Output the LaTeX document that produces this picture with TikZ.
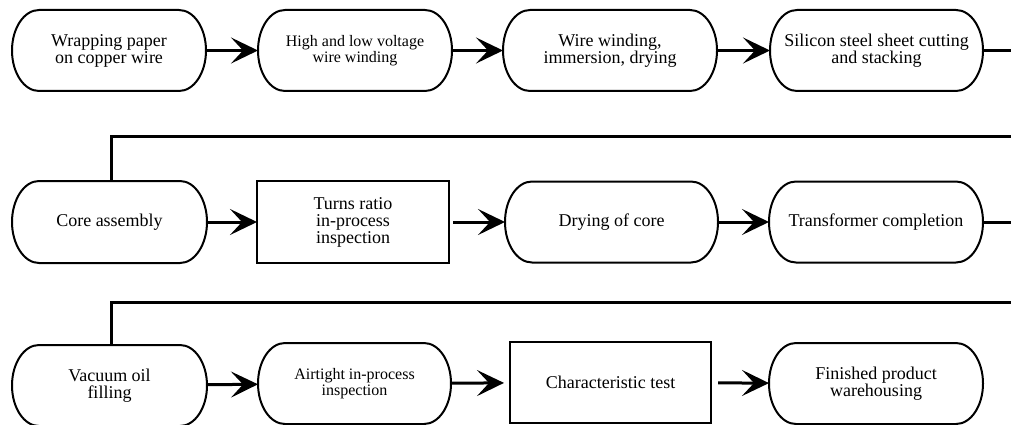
\documentclass[tikz,border=0pt]{standalone}
\usepackage{fontspec}
\setmainfont{Liberation Serif}
\usetikzlibrary{arrows.meta}
\tikzset{
  box/.style={rectangle, inner sep=0pt, outer sep=0pt, align=center,
    font=\fontsize{18}{17}\selectfont},
  small/.style={font=\fontsize{16}{16}\selectfont},
  rectbox/.style={box, draw, line width=2pt},
  bd/.style={line width=2pt, line join=round},
  conn/.style={line width=3pt, -{Stealth[length=27pt,width=26pt,inset=12pt]}},
  link/.style={line width=3pt, line join=miter}
}
\newcommand\stadium[1]{%
  \draw[bd] ([xshift=27pt]#1.north west) -- ([xshift=-27pt]#1.north east)
    .. controls ([xshift=-12.1pt]#1.north east) and ([yshift=22.4pt]#1.east) .. (#1.east)
    .. controls ([yshift=-22.4pt]#1.east) and ([xshift=-12.1pt]#1.south east) .. ([xshift=-27pt]#1.south east)
    -- ([xshift=27pt]#1.south west)
    .. controls ([xshift=12.1pt]#1.south west) and ([yshift=-22.4pt]#1.west) .. (#1.west)
    .. controls ([yshift=22.4pt]#1.west) and ([xshift=12.1pt]#1.north west) .. ([xshift=27pt]#1.north west) -- cycle;}
\begin{document}
\begin{tikzpicture}[x=1pt,y=-1pt]
\useasboundingbox (0,0) rectangle (1011,425);
% row 1
\node[box, minimum width=194pt, minimum height=81pt] (A1) at (109,50.5) {Wrapping paper\\on copper wire};
\node[box, small, minimum width=194pt, minimum height=81pt] (A2) at (355,50.5) {High and low voltage\\wire winding};
\node[box, minimum width=214pt, minimum height=81pt] (A3) at (610,50.5) {Wire winding,\\immersion, drying};
\node[box, minimum width=213pt, minimum height=81pt] (A4) at (876.5,50.5) {Silicon steel sheet cutting\\and stacking};
% row 2
\node[box, minimum width=195pt, minimum height=82pt] (B1) at (109.5,222) {Core assembly};
\node[rectbox, minimum width=192pt, minimum height=82pt] (B2) at (353,222) {Turns ratio\\in-process\\inspection};
\node[box, minimum width=213pt, minimum height=81pt] (B3) at (611.5,222) {Drying of core};
\node[box, minimum width=214pt, minimum height=81pt] (B4) at (876,222) {Transformer completion};
% row 3
\node[box, minimum width=195pt, minimum height=81pt] (C1) at (109.5,385.5) {Vacuum oil\\filling};
\node[box, small, minimum width=193pt, minimum height=81pt] (C2) at (354.5,383.5) {Airtight in-process\\inspection};
\node[rectbox, minimum width=201pt, minimum height=81pt] (C3) at (610.5,382.5) {Characteristic test};
\node[box, minimum width=214pt, minimum height=81pt] (C4) at (876,383.5) {Finished product\\warehousing};
\foreach \n in {A1,A2,A3,A4,B1,B3,B4,C1,C2,C4} {\stadium{\n}}
% connectors
\draw[conn] (A1) -- (A2);
\draw[conn] (A2) -- (A3);
\draw[conn] (A3) -- (A4);
\draw[conn] (B1) -- (B2);
\draw[conn, shorten <=4pt] (B2) -- (B3);
\draw[conn] (B3) -- (B4);
\draw[conn] (C1) -- (C2);
\draw[conn, shorten >=6pt] (C2) -- (C3);
\draw[conn, shorten <=7pt] (C3) -- (C4);
% row links
\coordinate (e1) at (1011,50.5);
\coordinate (e2) at (1011,222);
\coordinate (t2) at (1011,136);
\coordinate (t3) at (1011,302);
\draw[link] (A4) -- (e1);
\draw[link] (B4) -- (e2);
\draw[link] (t2) -| ([xshift=1.5pt]B1.north);
\draw[link] (t3) -| ([xshift=1.5pt]C1.north);
\end{tikzpicture}
\end{document}
